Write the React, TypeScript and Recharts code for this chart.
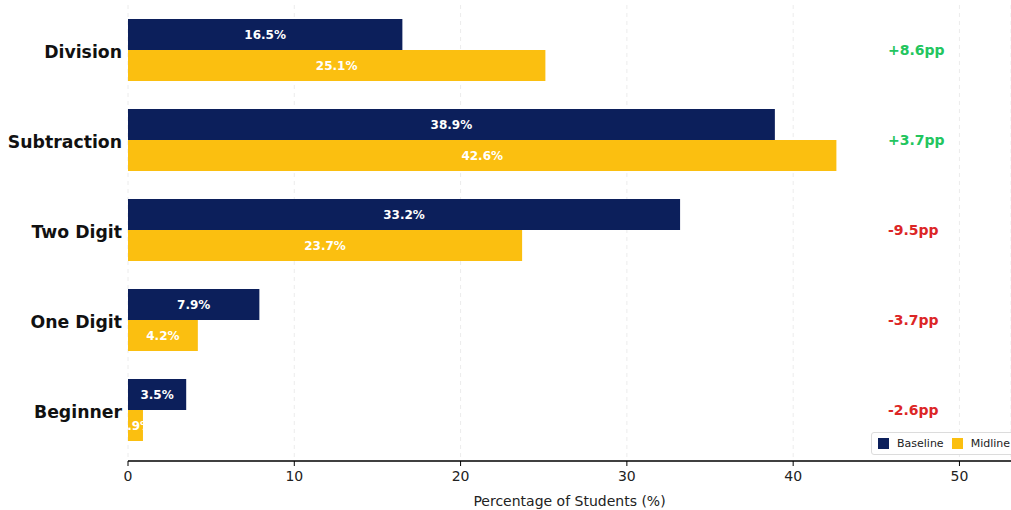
import React from 'react';
import { BarChart, Bar, XAxis, YAxis, CartesianGrid, LabelList, ReferenceDot } from 'recharts';

const categories = ['Division', 'Subtraction', 'Two Digit', 'One Digit', 'Beginner'];
const baseline = [16.5, 38.9, 33.2, 7.9, 3.5];
const midline = [25.1, 42.6, 23.7, 4.2, 0.9];
const change = [8.6, 3.7, -9.5, -3.7, -2.6];
const xTicks = [0, 10, 20, 30, 40, 50];

const NAVY = '#0c1f5b';
const GOLD = '#fbbf10';
const FONT = '"DejaVu Sans", sans-serif';

const data = categories.map((name, i) => ({
  name,
  baseline: baseline[i],
  midline: midline[i],
  change: change[i],
}));

// change labels sit a little right of the longest bar
const changeX = Math.max(...midline, ...baseline) + 3.1;

const fmtPct = (v: any) => `${v}%`;

// legend drawn as an overlay so it doesn't shrink the plot area
const LegendBox = () => (
  <div
    style={{
      position: 'absolute',
      left: 871,
      top: 432,
      display: 'flex',
      alignItems: 'center',
      border: '1px solid #dcdcdc',
      borderRadius: 3,
      background: '#fff',
      padding: '4px 6px',
      fontFamily: FONT,
      fontSize: 11,
      color: '#222',
      whiteSpace: 'nowrap',
    }}
  >
    <span style={{ width: 11, height: 11, background: NAVY, display: 'inline-block', marginRight: 8 }} />
    <span style={{ marginRight: 8 }}>Baseline</span>
    <span style={{ width: 11, height: 11, background: GOLD, display: 'inline-block', marginRight: 8 }} />
    <span>Midline</span>
  </div>
);

const App: React.FC = () => {
  return (
    <div style={{ position: 'absolute', left: 0, top: 0, width: 1011, height: 510, background: '#fff', overflow: 'hidden' }}>
      <BarChart
        width={1011}
        height={510}
        data={data}
        layout="vertical"
        margin={{ top: 5, right: 0, left: 0, bottom: 0 }}
        barCategoryGap={14}
        barGap={0}
      >
        <CartesianGrid horizontal={false} strokeDasharray="4 4" stroke="#ececec" />
        <XAxis
          type="number"
          domain={[0, 53.1]}
          ticks={xTicks}
          allowDataOverflow
          height={49}
          tickSize={5}
          tick={{ fill: '#222', fontSize: 14, fontFamily: FONT, dy: 3 }}
          axisLine={{ stroke: '#000', strokeWidth: 1.3 }}
          tickLine={{ stroke: '#000' }}
          label={{ value: 'Percentage of Students (%)', position: 'insideBottom', offset: 4, fill: '#222', fontSize: 14, fontFamily: FONT }}
        />
        <YAxis
          type="category"
          dataKey="name"
          width={128}
          padding={{ top: 0, bottom: 6 }}
          axisLine={false}
          tickLine={false}
          tickMargin={0}
          tick={{ fill: '#111', fontSize: 17.3, fontWeight: 'bold', fontFamily: FONT, dy: 2 }}
        />
        <Bar dataKey="baseline" name="Baseline" fill={NAVY} isAnimationActive={false}>
          <LabelList dataKey="baseline" position="center" formatter={fmtPct} fill="#fff" fontSize={12} fontWeight="bold" fontFamily={FONT} />
        </Bar>
        <Bar dataKey="midline" name="Midline" fill={GOLD} isAnimationActive={false}>
          <LabelList dataKey="midline" position="center" formatter={fmtPct} fill="#fff" fontSize={12} fontWeight="bold" fontFamily={FONT} />
        </Bar>
        {data.map((d) => (
          <ReferenceDot
            key={d.name}
            x={changeX}
            y={d.name}
            r={0}
            ifOverflow="visible"
            shape={(p: any) => (
              <text
                x={p.cx}
                y={p.cy}
                dy="0.35em"
                textAnchor="start"
                fill={d.change >= 0 ? '#22c55e' : '#dc2626'}
                fontSize={14}
                fontWeight="bold"
                fontFamily={FONT}
              >
                {`${d.change >= 0 ? '+' : ''}${d.change.toFixed(1)}pp`}
              </text>
            )}
          />
        ))}
      </BarChart>
      <LegendBox />
    </div>
  );
};

export default App;
